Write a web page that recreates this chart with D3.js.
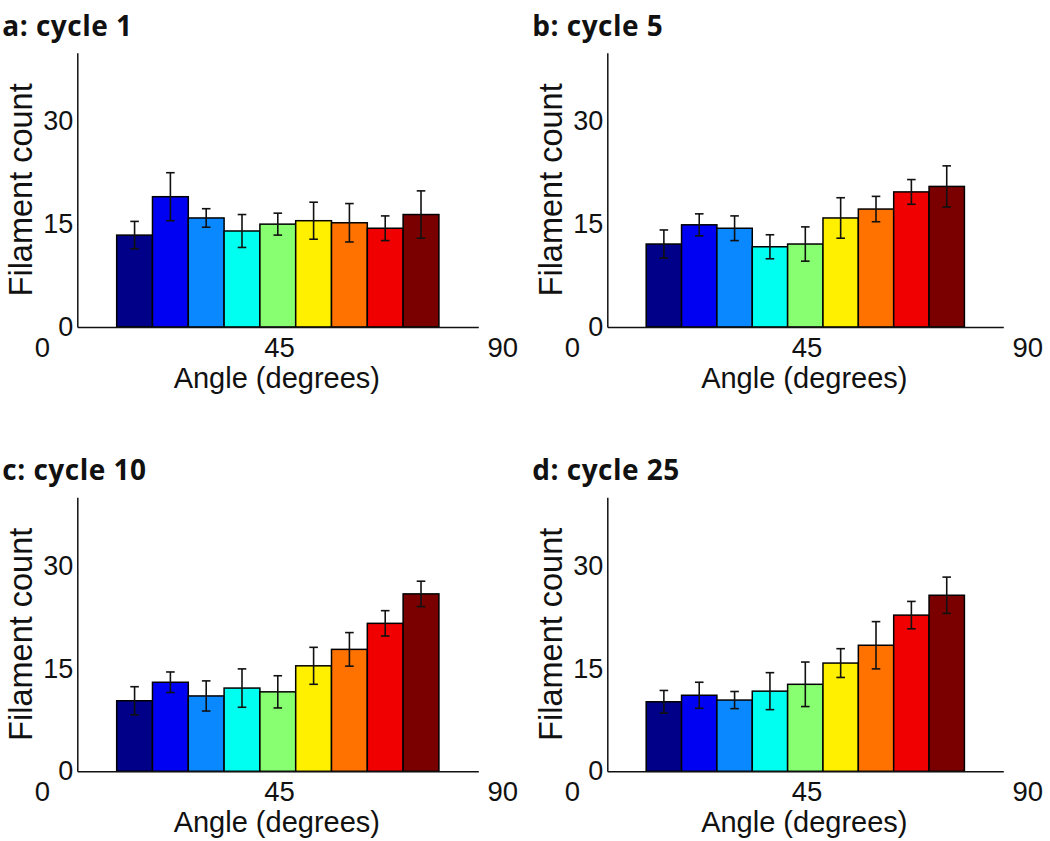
<!DOCTYPE html>
<html>
<head>
<meta charset="utf-8">
<script src="https://cdn.jsdelivr.net/npm/d3@7"></script>
<style>
  html, body { margin: 0; padding: 0; background: #ffffff; }
  svg { display: block; }
</style>
</head>
<body>
<svg id="chart" width="1050" height="841"></svg>
<script>
// ---- data ----
const binStarts = [0, 10, 20, 30, 40, 50, 60, 70, 80];   // angle bins (degrees), width 10
const binWidth = 10;
const binColors = ["#000088", "#0000F2", "#0A88FF", "#00FFF0", "#88FF70", "#FFF000", "#FF7200", "#F00000", "#7A0000"];
const panelTitles = ["a: cycle 1", "b: cycle 5", "c: cycle 10", "d: cycle 25"];
const cycle1    = [13.4, 19.0, 15.9, 14.0, 15.0, 15.5, 15.2, 14.4, 16.4];
const cycle1Err = [2.0, 3.5, 1.35, 2.4, 1.6, 2.7, 2.8, 1.8, 3.45];
const cycle5    = [12.1, 14.9, 14.4, 11.7, 12.1, 15.9, 17.2, 19.7, 20.5];
const cycle5Err = [2.05, 1.6, 1.8, 1.75, 2.5, 2.95, 1.85, 1.8, 3.0];
const cycle10    = [10.3, 13.0, 11.0, 12.15, 11.6, 15.4, 17.8, 21.6, 25.9];
const cycle10Err = [2.05, 1.5, 2.2, 2.8, 2.35, 2.7, 2.45, 1.85, 1.85];
const cycle25    = [10.15, 11.1, 10.4, 11.7, 12.7, 15.8, 18.4, 22.8, 25.7];
const cycle25Err = [1.65, 1.9, 1.25, 2.7, 3.25, 2.1, 3.45, 2.0, 2.65];
const yTicks = [0, 15, 30];
const xTickLabels = ["0", "45", "90"];
const xTickValues = [0, 45, 90];
const yDomain = [0, 40];
const xDomain = [-11, 101];
const xLabel = "Angle (degrees)";
const yLabel = "Filament count";

const panelValues = [cycle1, cycle5, cycle10, cycle25];
const panelErrors = [cycle1Err, cycle5Err, cycle10Err, cycle25Err];

// ---- layout ----
const panels = [
  { left: 77.3,  right: 478.3,  top: 52.7,  bottom: 327.0 },
  { left: 607.3, right: 1003.3, top: 52.7,  bottom: 327.0 },
  { left: 77.3,  right: 478.3,  top: 497.3, bottom: 771.3 },
  { left: 607.3, right: 1003.3, top: 497.3, bottom: 771.3 }
];

const svg = d3.select("#chart");
const tickFont = "Liberation Sans, Arial, sans-serif";

panels.forEach((p, i) => {
  const vals = panelValues[i];
  const errs = panelErrors[i];
  const x = d3.scaleLinear().domain(xDomain).range([p.left, p.right]);
  const y = d3.scaleLinear().domain(yDomain).range([p.bottom, p.top]);
  // tick label scale (labels sit outside the axis ends, 45 centred on the bars)
  const xt = d3.scaleLinear().domain(xTickValues)
    .range([p.left - 35, x(45.5), p.right + 24.5]);

  const g = svg.append("g");

  // bars
  g.selectAll("rect.bar").data(vals).enter().append("rect")
    .attr("class", "bar")
    .attr("x", (d, j) => x(binStarts[j]))
    .attr("width", (d, j) => x(binStarts[j] + binWidth) - x(binStarts[j]))
    .attr("y", d => y(d))
    .attr("height", d => y(0) - y(d))
    .attr("fill", (d, j) => binColors[j])
    .attr("stroke", "#000")
    .attr("stroke-width", 1.5);

  // error bars
  const capHalf = 4.3;
  const eg = g.selectAll("g.err").data(vals).enter().append("g").attr("class", "err")
    .attr("stroke", "#111").attr("stroke-width", 1.6);
  eg.append("line")
    .attr("x1", (d, j) => x(binStarts[j] + binWidth / 2))
    .attr("x2", (d, j) => x(binStarts[j] + binWidth / 2))
    .attr("y1", (d, j) => y(d + errs[j]))
    .attr("y2", (d, j) => y(d - errs[j]));
  eg.append("line")
    .attr("x1", (d, j) => x(binStarts[j] + binWidth / 2) - capHalf)
    .attr("x2", (d, j) => x(binStarts[j] + binWidth / 2) + capHalf)
    .attr("y1", (d, j) => y(d + errs[j]))
    .attr("y2", (d, j) => y(d + errs[j]));
  eg.append("line")
    .attr("x1", (d, j) => x(binStarts[j] + binWidth / 2) - capHalf)
    .attr("x2", (d, j) => x(binStarts[j] + binWidth / 2) + capHalf)
    .attr("y1", (d, j) => y(d - errs[j]))
    .attr("y2", (d, j) => y(d - errs[j]));

  // y axis
  const yAxis = d3.axisLeft(y).tickValues(yTicks).tickSize(0).tickPadding(4).tickFormat(d3.format("d"));
  const ya = g.append("g").attr("transform", `translate(${p.left},0)`).call(yAxis);
  ya.select(".domain").attr("stroke", "#111").attr("stroke-width", 1.5);
  ya.selectAll("text").attr("font-family", tickFont).attr("font-size", 27).attr("fill", "#111");

  // x axis line
  const xAxis = d3.axisBottom(x).tickValues([]).tickSize(0).tickSizeOuter(0);
  const xa = g.append("g").attr("transform", `translate(0,${p.bottom})`).call(xAxis);
  xa.select(".domain").attr("stroke", "#111").attr("stroke-width", 1.5);

  // x tick labels
  g.selectAll("text.xt").data(xTickValues).enter().append("text")
    .attr("class", "xt")
    .attr("x", d => xt(d))
    .attr("y", p.bottom + 29.7)
    .attr("text-anchor", "middle")
    .attr("font-family", tickFont)
    .attr("font-size", 27.5)
    .attr("fill", "#111")
    .text((d, k) => xTickLabels[k]);

  // axis titles
  g.append("text")
    .attr("x", (p.left + p.right) / 2 - 1)
    .attr("y", p.bottom + 61)
    .attr("text-anchor", "middle")
    .attr("font-family", tickFont)
    .attr("font-size", 29)
    .attr("fill", "#111")
    .text(xLabel);

  g.append("text")
    .attr("transform", `translate(${p.left - 45},${(p.top + p.bottom) / 2}) rotate(-90)`)
    .attr("text-anchor", "middle")
    .attr("font-family", tickFont)
    .attr("font-size", 32.5)
    .attr("fill", "#111")
    .text(yLabel);

  // panel title
  g.append("text")
    .attr("x", p.left - 75)
    .attr("y", p.top - 17)
    .attr("font-family", "'Open Sans', Lato, sans-serif")
    .attr("font-weight", "bold")
    .attr("font-size", 28)
    .attr("letter-spacing", 0.5)
    .attr("fill", "#111")
    .text(panelTitles[i]);
});
</script>
</body>
</html>
